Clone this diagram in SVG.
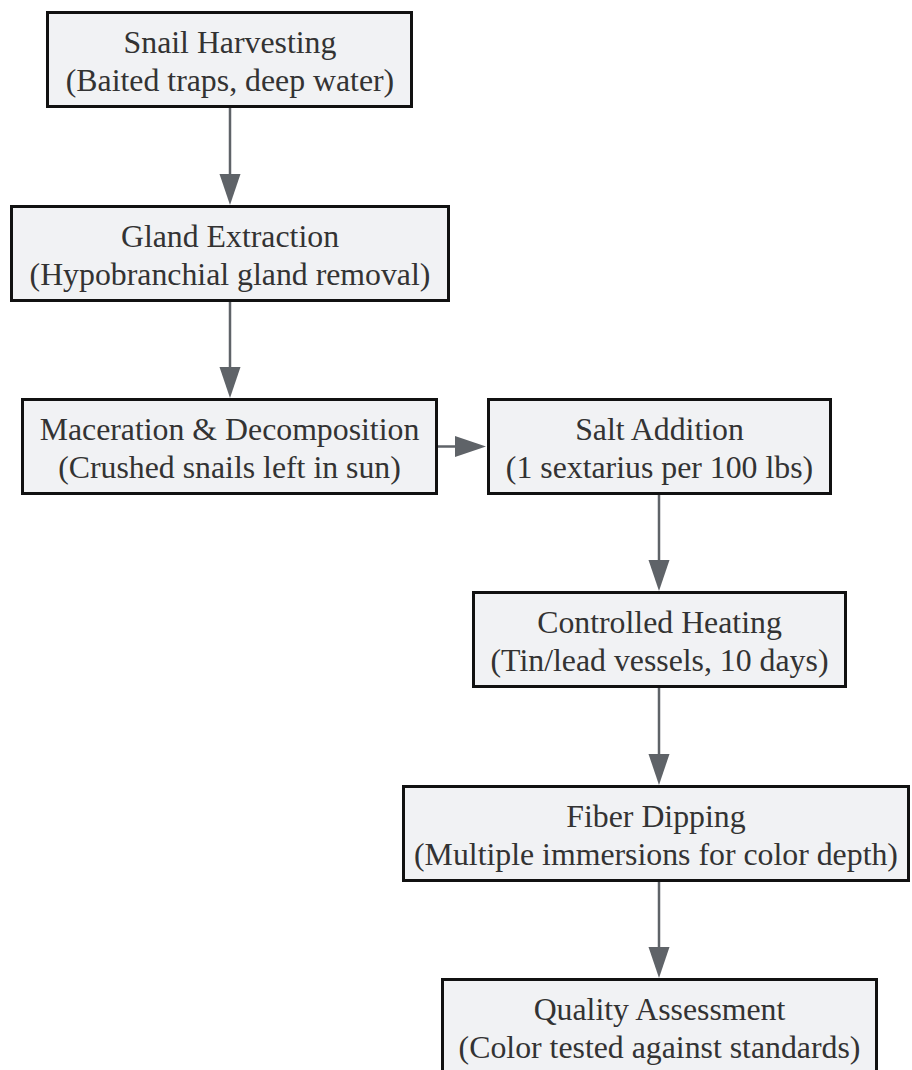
<svg xmlns="http://www.w3.org/2000/svg" width="912" height="1070" viewBox="0 0 912 1070">
<style>
.box{fill:#f1f2f4;stroke:#111;stroke-width:3}
.t{font-family:'Liberation Serif',Tinos,'Times New Roman','Nimbus Roman','Noto Serif','DejaVu Serif',serif;font-size:31.8px;fill:#333;text-anchor:middle}
.edge{stroke:#5f6368;stroke-width:2.5;fill:none}
.head{fill:#5f6368}
</style>
<rect width="912" height="1070" fill="#ffffff"/>
<g id="connectors">
<line class="edge" x1="230" y1="108" x2="230" y2="176"/>
<polygon class="head" points="219.5,174 240.5,174 230,205"/>
<line class="edge" x1="230" y1="302" x2="230" y2="369"/>
<polygon class="head" points="219.5,367 240.5,367 230,398"/>
<line class="edge" x1="438" y1="446.5" x2="458" y2="446.5"/>
<polygon class="head" points="455,436 455,457 486,446.5"/>
<line class="edge" x1="659" y1="495" x2="659" y2="562"/>
<polygon class="head" points="648.5,560 669.5,560 659,591"/>
<line class="edge" x1="659" y1="688" x2="659" y2="756"/>
<polygon class="head" points="648.5,754 669.5,754 659,785"/>
<line class="edge" x1="659" y1="882" x2="659" y2="949"/>
<polygon class="head" points="648.5,947 669.5,947 659,978"/>
</g>
<g id="n1">
<rect class="box" x="47.5" y="12.5" width="364" height="94"/>
<text class="t" x="230" y="53" font-family="Liberation Serif, serif">Snail Harvesting</text>
<text class="t" x="230" y="91" font-family="Liberation Serif, serif">(Baited traps, deep water)</text>
</g>
<g id="n2">
<rect class="box" x="11.5" y="206.5" width="437" height="94"/>
<text class="t" x="230" y="247">Gland Extraction</text>
<text class="t" x="230" y="285">(Hypobranchial gland removal)</text>
</g>
<g id="n3">
<rect class="box" x="22.5" y="399.5" width="414" height="94"/>
<text class="t" x="229.5" y="440">Maceration &amp; Decomposition</text>
<text class="t" x="229.5" y="478">(Crushed snails left in sun)</text>
</g>
<g id="n4">
<rect class="box" x="488.5" y="399.5" width="342" height="94"/>
<text class="t" x="659.5" y="440">Salt Addition</text>
<text class="t" x="659.5" y="478">(1 sextarius per 100 lbs)</text>
</g>
<g id="n5">
<rect class="box" x="473.5" y="592.5" width="372" height="94"/>
<text class="t" x="659.5" y="633">Controlled Heating</text>
<text class="t" x="659.5" y="671">(Tin/lead vessels, 10 days)</text>
</g>
<g id="n6">
<rect class="box" x="403.5" y="786.5" width="505" height="94"/>
<text class="t" x="656" y="827">Fiber Dipping</text>
<text class="t" x="656" y="865">(Multiple immersions for color depth)</text>
</g>
<g id="n7">
<rect class="box" x="442.5" y="979.5" width="434" height="94"/>
<text class="t" x="659.5" y="1020">Quality Assessment</text>
<text class="t" x="659.5" y="1058">(Color tested against standards)</text>
</g>
</svg>
